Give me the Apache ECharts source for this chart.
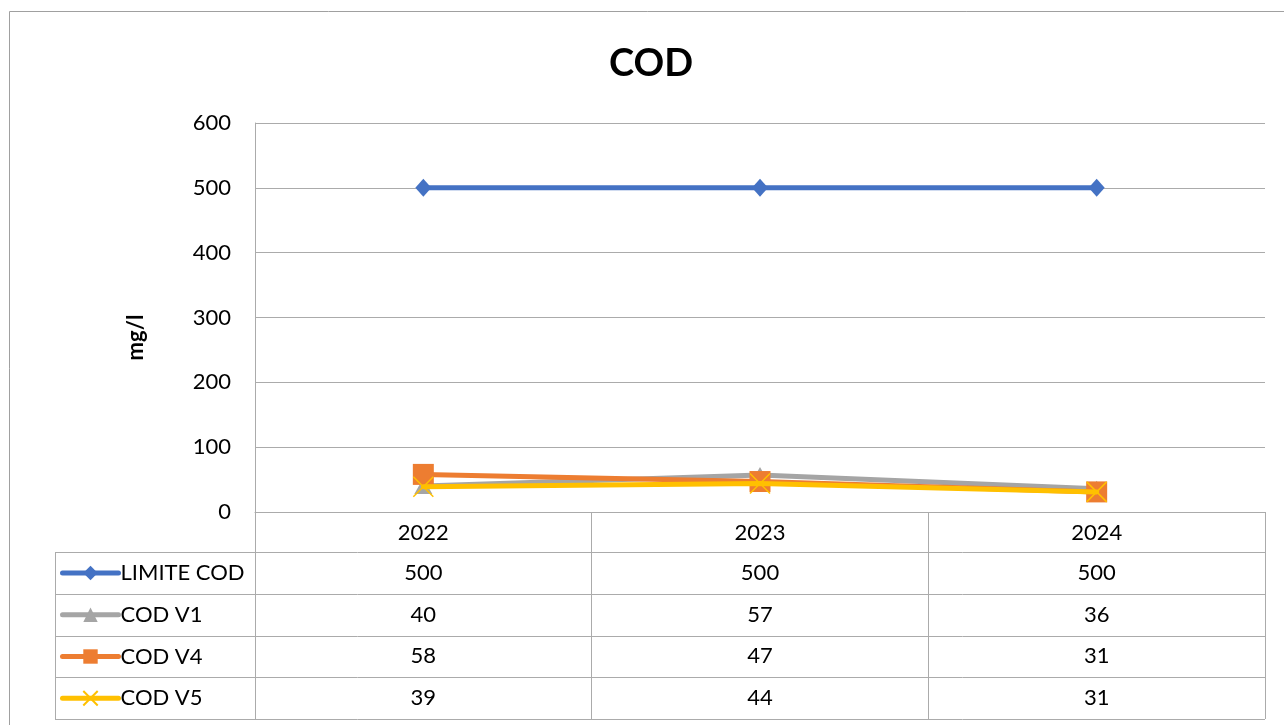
<!DOCTYPE html>
<html><head><meta charset="utf-8">
<script src="https://cdn.jsdelivr.net/npm/echarts@6/dist/echarts.min.js"></script>
<style>html,body{margin:0;padding:0;background:#fff}#c{width:1284px;height:725px}</style>
</head><body><div id="c"></div>
<script>
const categories = ['2022', '2023', '2024'];
const seriesNames = ['LIMITE COD', 'COD V1', 'COD V4', 'COD V5'];
const limiteCOD = [500, 500, 500];
const codV1 = [40, 57, 36];
const codV4 = [58, 47, 31];
const codV5 = [39, 44, 31];
const yMin = 0, yMax = 600, yStep = 100;
const yAxisTitle = 'mg/l';
const chartTitle = 'COD';

const FONT = 'Lato, "Noto Sans", sans-serif';
const GRID_C = '#ABABAB';
const colors = ['#4472C4', '#A5A5A5', '#ED7D31', '#FFC000'];
const seriesData = [limiteCOD, codV1, codV4, codV5];
const symbols = ['diamond', 'triangle', 'rect', 'path://M0,0L10,10M10,0L0,10'];
const symbolSizes = [[16, 18], [18, 16], 21, 20];

const chart = echarts.init(document.getElementById('c'), null, {renderer: 'canvas'});

const series = seriesNames.map((n, i) => ({
  name: n,
  type: 'line',
  data: seriesData[i],
  symbol: symbols[i],
  symbolSize: symbolSizes[i],
  lineStyle: {color: colors[i], width: 5, cap: 'round'},
  itemStyle: i === 3
    ? {color: 'rgba(255,192,0,0)', borderColor: colors[i], borderWidth: 1.5}
    : {color: colors[i], borderColor: colors[i], borderWidth: 0},
  z: 2 + i,
  animation: false
}));

const option = {
  animation: false,
  backgroundColor: '#fff',
  title: {
    text: chartTitle, left: 604, top: 40,
    textStyle: {fontFamily: FONT, fontSize: 38, fontWeight: 'bold', color: '#000'}
  },
  grid: {left: 255, right: 19, top: 123, bottom: 213},
  legend: {
    orient: 'vertical', left: 55, top: 557,
    itemWidth: 56, itemHeight: 18, itemGap: 19.75,
    lineStyle: {width: 5, cap: 'round'},
    textStyle: {fontFamily: FONT, fontSize: 22, color: '#000', lineHeight: 22, padding: [0, 0, 0, -3]},
    selectedMode: false,
    data: seriesNames
  },
  xAxis: {
    type: 'category', data: categories, boundaryGap: true,
    axisLine: {show: true, lineStyle: {color: GRID_C, width: 1}},
    axisTick: {show: true, length: 207, alignWithLabel: false, lineStyle: {color: GRID_C, width: 1}},
    axisLabel: {fontFamily: FONT, fontSize: 22, color: '#000', margin: 10}
  },
  yAxis: {
    type: 'value', min: yMin, max: yMax, interval: yStep,
    axisLine: {show: true, lineStyle: {color: GRID_C, width: 1}},
    axisTick: {show: false},
    splitLine: {show: true, lineStyle: {color: GRID_C, width: 1}},
    axisLabel: {fontFamily: FONT, fontSize: 22, color: '#000', margin: 24}
  },
  series: series
};
chart.setOption(option);

// Data table drawn below the axis, positioned from the axis scales
const cx0 = chart.convertToPixel({xAxisIndex: 0}, 0);
const cx1 = chart.convertToPixel({xAxisIndex: 0}, 1);
const bw = cx1 - cx0;
const tLeft = cx0 - bw / 2;
const tRight = tLeft + bw * categories.length;
const yBase = chart.convertToPixel({yAxisIndex: 0}, 0);
const yTop = chart.convertToPixel({yAxisIndex: 0}, yMax);
const headerH = 40;
const rowH = 41.75;
const legendLeft = 55;
const elements = [];
// outer chart border
elements.push({type: 'rect', shape: {x: 9.5, y: 11.5, width: 1400, height: 900},
  style: {fill: null, stroke: '#A0A0A0', lineWidth: 1}, silent: true, z: 0});
// y axis title
elements.push({type: 'text', silent: true, x: 136, y: (yTop + yBase) / 2 + 20, rotation: Math.PI / 2,
  style: {text: yAxisTitle, fontFamily: FONT, fontSize: 22, fontWeight: 'bold', fill: '#000',
    align: 'center', verticalAlign: 'middle'}});
for (let r = 0; r <= seriesNames.length; r++) {
  const y = Math.round(yBase + headerH + r * rowH) + 0.5;
  elements.push({type: 'line', shape: {x1: legendLeft, y1: y, x2: tRight, y2: y},
    style: {stroke: GRID_C, lineWidth: 1}, silent: true});
}
const tTop = Math.round(yBase + headerH) + 0.5;
const tBot = Math.round(yBase + headerH + seriesNames.length * rowH) + 0.5;
elements.push({type: 'line', shape: {x1: legendLeft + 0.5, y1: tTop, x2: legendLeft + 0.5, y2: tBot},
  style: {stroke: GRID_C, lineWidth: 1}, silent: true});
seriesData.forEach((arr, r) => {
  arr.forEach((v, c) => {
    elements.push({type: 'text', silent: true,
      x: chart.convertToPixel({xAxisIndex: 0}, c),
      y: yBase + headerH + r * rowH + rowH / 2,
      style: {text: String(v), fontFamily: FONT, fontSize: 22, fill: '#000',
        align: 'center', verticalAlign: 'middle'}});
  });
});
chart.setOption({graphic: {elements: elements}});
</script></body></html>
